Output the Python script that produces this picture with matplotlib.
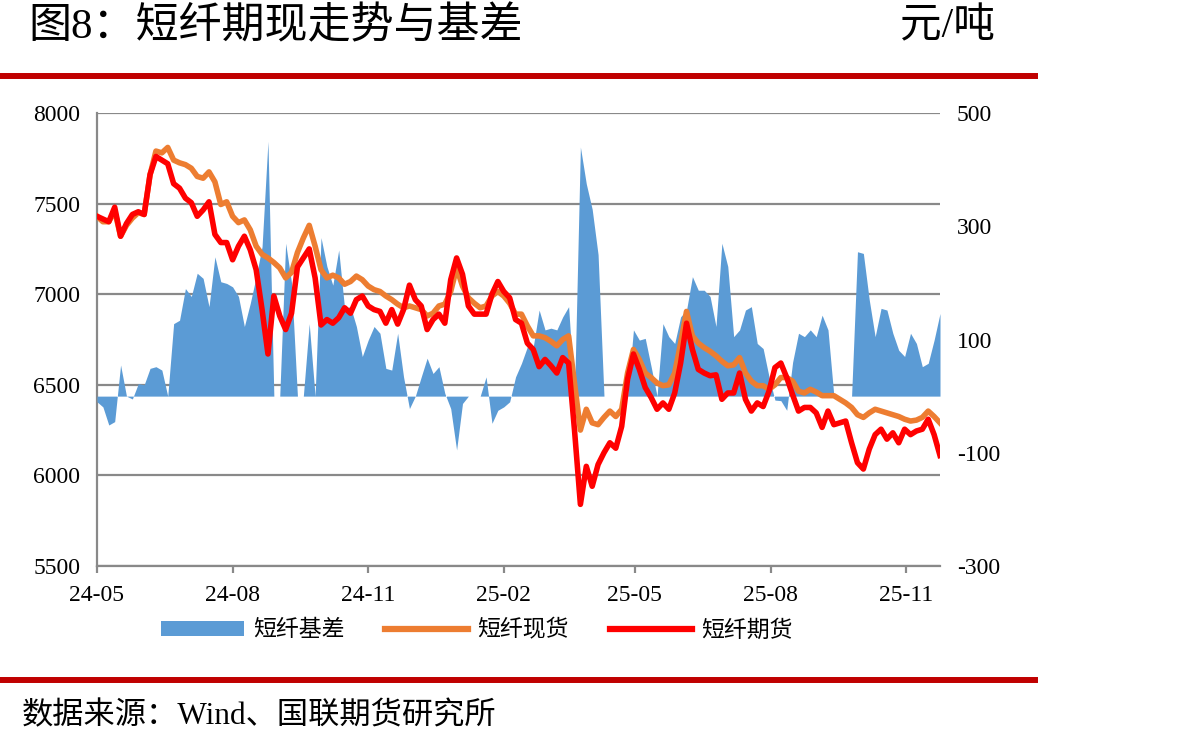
import matplotlib
matplotlib.use("Agg")
import matplotlib.pyplot as plt
import matplotlib.dates as mdates
from matplotlib.patches import Patch
from matplotlib.lines import Line2D
import pandas as pd

plt.rcParams["axes.unicode_minus"] = False

# ---------------- data ----------------
start_date = "2024-05-01"
end_date = "2025-11-24"
step = "4D"

futures = [
    7430, 7415, 7400, 7480, 7320, 7390, 7440, 7455, 7440, 7660,
    7760, 7740, 7720, 7610, 7585, 7530, 7505, 7430, 7465, 7510,
    7330, 7285, 7285, 7190, 7265, 7320, 7245, 7135, 6915, 6670,
    6990, 6880, 6805, 6895, 7150, 7200, 7250, 7090, 6830, 6860,
    6840, 6870, 6925, 6895, 6970, 6990, 6935, 6915, 6905, 6840,
    6915, 6835, 6915, 7050, 6970, 6935, 6805, 6860, 6890, 6840,
    7080, 7200, 7110, 6935, 6890, 6890, 6890, 7000, 7070, 7015,
    6980, 6860, 6840, 6730, 6695, 6600, 6640, 6605, 6565, 6650,
    6620, 6250, 5840, 6050, 5940, 6060, 6125, 6180, 6150, 6270,
    6530, 6670, 6585, 6485, 6430, 6365, 6400, 6365, 6455, 6620,
    6840, 6695, 6585, 6565, 6550, 6555, 6420, 6455, 6455, 6565,
    6420, 6355, 6400, 6380, 6465, 6595, 6620, 6540, 6445, 6355,
    6375, 6375, 6345, 6265, 6355, 6280, 6290, 6300, 6180, 6070,
    6035, 6145, 6225, 6255, 6200, 6235, 6180, 6255, 6225, 6245,
    6255, 6310, 6225, 6110,
]

spot = [
    7430, 7400, 7400, 7460, 7320, 7380, 7420, 7450, 7440, 7660,
    7790, 7780, 7810, 7740, 7725, 7715, 7695, 7650, 7640, 7675,
    7620, 7495, 7510, 7430, 7395, 7410, 7355, 7265, 7220, 7200,
    7175, 7145, 7090, 7120, 7230, 7310, 7380, 7265, 7135, 7090,
    7105, 7090, 7055, 7070, 7100, 7080, 7045, 7025, 7015, 6990,
    6970, 6945, 6925, 6935, 6925, 6915, 6880, 6895, 6935, 6945,
    7015, 7145, 7045, 6980, 6950, 6925, 6935, 6990, 7015, 6990,
    6950, 6890, 6890, 6825, 6770, 6770, 6760, 6740, 6715, 6750,
    6770, 6510, 6250, 6365, 6290, 6280, 6320, 6355, 6325, 6365,
    6565, 6695, 6640, 6565, 6540, 6510, 6495, 6500, 6565, 6730,
    6905, 6770, 6730, 6705, 6685, 6660, 6630, 6605, 6610, 6650,
    6565, 6520, 6495, 6495, 6475, 6500, 6540, 6540, 6520, 6465,
    6455, 6475, 6460, 6440, 6440, 6440, 6420, 6400, 6375, 6335,
    6320, 6345, 6365, 6355, 6345, 6335, 6325, 6310, 6300, 6305,
    6320, 6355, 6325, 6290,
]

basis = [
    -10, -19, -51, -45, 55, 0, -5, 22, 20, 49,
    52, 46, 0, 128, 134, 190, 176, 217, 208, 158,
    246, 202, 199, 193, 176, 123, 164, 211, 264, 450,
    0, 0, 270, 200, 0, 0, 128, 0, 280, 229,
    196, 258, 155, 158, 123, 70, 99, 123, 111, 49,
    46, 111, 34, -22, 0, 34, 67, 40, 52, 5,
    -22, -95, -13, 0, 0, 0, 34, -48, -25, -19,
    -10, 34, 58, 87, 87, 152, 117, 120, 117, 140,
    158, 0, 440, 375, 330, 250, 0, 0, 0, 0,
    0, 117, 99, 102, 52, 0, 128, 105, 93, 140,
    152, 211, 187, 187, 176, 123, 270, 229, 105, 117,
    152, 158, 93, 84, 34, -7, -8, -25, 60, 111,
    105, 117, 105, 143, 117, 0, 0, 0, 0, 255,
    252, 170, 105, 155, 152, 111, 81, 70, 111, 93,
    52, 58, 99, 146,
]

tick_months = ["2024-05-01", "2024-08-01", "2024-11-01", "2025-02-01",
               "2025-05-01", "2025-08-01", "2025-11-01"]
left_ticks = [5500, 6000, 6500, 7000, 7500, 8000]
right_ticks = [-300, -100, 100, 300, 500]

title_text = "图8：短纤期现走势与基差"
unit_text = "元/吨"
source_text = "数据来源：Wind、国联期货研究所"
labels = ["短纤基差", "短纤现货", "短纤期货"]

# ---------------- style ----------------
C_BLUE = "#5B9BD5"
C_ORANGE = "#ED7D31"
C_RED = "#FF0000"
C_GRID = "#898989"
C_BAR = "#C00000"
SERIF_CJK = ["Liberation Serif", "Noto Sans CJK SC"]

dates = pd.date_range(start_date, end_date, freq=step)

fig = plt.figure(figsize=(11.87, 7.48), dpi=100)
rect = [97 / 1187, 1 - 566 / 748, 843 / 1187, 453 / 748]

ax = fig.add_axes(rect)          # grid + left axis
ax2 = ax.twinx()                 # basis (right axis)
ax3 = ax.twinx()                 # price lines on left scale

ax.set_zorder(1)
ax2.set_zorder(2)
ax3.set_zorder(3)
ax2.patch.set_visible(False)
ax3.patch.set_visible(False)

# left axis & grid
ax.set_ylim(5500, 8000)
ax.set_yticks(left_ticks)
ax.grid(axis="y", color=C_GRID, lw=1.6)
ax.set_axisbelow(True)
for s in ["top", "right"]:
    ax.spines[s].set_visible(False)
ax.spines["left"].set_color(C_GRID)
ax.spines["left"].set_linewidth(1.6)
ax.spines["bottom"].set_color(C_GRID)
ax.spines["bottom"].set_linewidth(1.6)
ax.tick_params(axis="y", length=0, pad=12, labelsize=17)
ax.tick_params(axis="x", length=5, width=1.6, color=C_GRID, pad=9, labelsize=17)
for lab in ax.get_yticklabels():
    lab.set_family("Liberation Serif")

# basis area
ax2.fill_between(dates, 0, basis, color=C_BLUE, lw=0)
ax2.set_ylim(-300, 500)
ax2.set_yticks(right_ticks)
ax2.tick_params(axis="y", length=0, pad=12, labelsize=17)
for lab in ax2.get_yticklabels():
    lab.set_family("Liberation Serif")
for s in ax2.spines.values():
    s.set_visible(False)

# price lines
ax3.plot(dates, spot, color=C_ORANGE, lw=4.0, solid_joinstyle="round")
ax3.plot(dates, futures, color=C_RED, lw=4.0, solid_joinstyle="round")
ax3.set_ylim(5500, 8000)
ax3.set_yticks([])
for s in ax3.spines.values():
    s.set_visible(False)

# x axis
ax.set_xlim(pd.Timestamp(start_date), pd.Timestamp(end_date))
ax.set_xticks([pd.Timestamp(t) for t in tick_months])
ax.xaxis.set_major_formatter(mdates.DateFormatter("%y-%m"))
for lab in ax.get_xticklabels():
    lab.set_family("Liberation Serif")

# legend
handles = [
    Patch(facecolor=C_BLUE, edgecolor="none"),
    Line2D([0], [0], color=C_ORANGE, lw=4.5),
    Line2D([0], [0], color=C_RED, lw=4.5),
]
fig.legend(handles, labels, loc="center", bbox_to_anchor=(477 / 1187, 1 - 630 / 748),
           ncol=3, frameon=False, handlelength=3.6, handleheight=0.6,
           handletextpad=0.4, columnspacing=1.8,
           prop={"family": "Noto Sans CJK SC", "size": 16.5})

# titles and decorations
fig.text(28 / 1187, 1 - 27 / 748, title_text, family=SERIF_CJK, fontsize=31,
         ha="left", va="center")
fig.text(900 / 1187, 1 - 27 / 748, unit_text, family=SERIF_CJK, fontsize=30,
         ha="left", va="center")
fig.add_artist(Line2D([0, 1035 / 1187], [1 - 76 / 748] * 2, color=C_BAR, lw=4.3,
                      transform=fig.transFigure))
fig.add_artist(Line2D([0, 1035 / 1187], [1 - 680 / 748] * 2, color=C_BAR, lw=4.3,
                      transform=fig.transFigure))
fig.text(22 / 1187, 1 - 717 / 748, source_text, family=SERIF_CJK, fontsize=22.5,
         ha="left", va="center")

fig.savefig("out.png", dpi=100)
